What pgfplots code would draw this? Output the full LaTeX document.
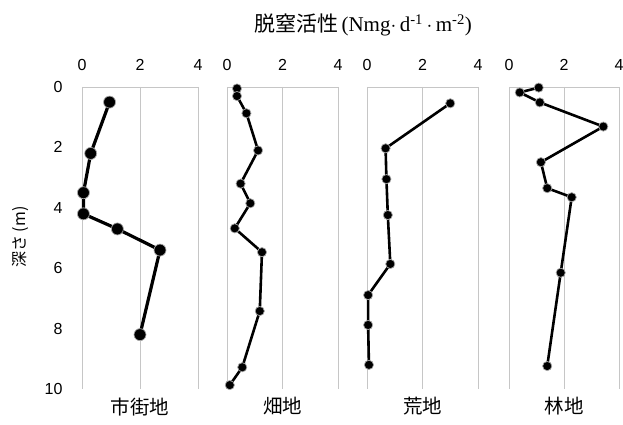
\documentclass[border=0pt]{standalone}
\usepackage{pgfplots}
\pgfplotsset{compat=1.18}
\usepackage{fontspec}
\setmainfont{Liberation Serif}
\newfontfamily\cjk{Noto Sans CJK JP}
\newfontfamily\tickfont{Liberation Sans}
\pgfplotsset{
  panel/.style={
    scale only axis, height=302pt,
    xmin=0, xmax=4, ymin=0, ymax=10, y dir=reverse,
    axis x line*=top, axis y line*=left,
    y axis line style={draw=none},
    x axis line style={draw=gray!45, line width=0.9pt},
    xtick={0,2,4}, ytick={0,2,4,6,8,10},
    tick style={draw=none},
    xmajorgrids, grid style={gray!45, line width=0.9pt},
    /pgf/number format/assume math mode=true,
    tick label style={font=\tickfont\fontsize{16}{18}\selectfont},
    xticklabel style={yshift=13pt},
    yticklabel style={xshift=-16pt},
    clip=false,
  },
  series/.style={black, line width=2.6pt, mark=*, mark size=4.6pt,
    mark options={fill=black, draw=gray!70, line width=0.7pt, solid}},
}
\begin{document}
\begin{tikzpicture}[x=1pt,y=1pt]
\path[use as bounding box] (0,0) rectangle (623,425);
% panel 1
\begin{axis}[panel, width=116pt, at={(82pt,36pt)}, anchor=south west]
\addplot[series, line width=3.2pt, mark size=6pt] coordinates {
(0.95,0.5)(0.3,2.2)(0.05,3.5)(0.05,4.2)(1.22,4.7)(2.69,5.4)(2.0,8.2)};
\node[anchor=north, font=\cjk\fontsize{19.5}{21}\selectfont] at (rel axis cs:0.5,0) [yshift=-5pt] {市街地};
\end{axis}
% panel 2
\begin{axis}[panel, width=111pt, at={(227pt,36pt)}, anchor=south west, yticklabels={}]
\addplot[series] coordinates {
(0.36,0.05)(0.36,0.3)(0.7,0.87)(1.12,2.1)(0.49,3.2)(0.84,3.85)(0.28,4.68)(1.26,5.47)(1.18,7.42)(0.55,9.28)(0.1,9.87)};
\node[anchor=north, font=\cjk\fontsize{19.5}{21}\selectfont] at (rel axis cs:0.5,0) [yshift=-5pt] {畑地};
\end{axis}
% panel 3
\begin{axis}[panel, width=111pt, at={(367pt,36pt)}, anchor=south west, yticklabels={}]
\addplot[series] coordinates {
(3.0,0.54)(0.67,2.03)(0.7,3.05)(0.75,4.24)(0.84,5.86)(0.04,6.89)(0.04,7.88)(0.07,9.2)};
\node[anchor=north, font=\cjk\fontsize{19.5}{21}\selectfont] at (rel axis cs:0.5,0) [yshift=-5pt] {荒地};
\end{axis}
% panel 4
\begin{axis}[panel, width=110pt, at={(509pt,36pt)}, anchor=south west, yticklabels={}]
\addplot[series] coordinates {
(1.08,0.02)(0.39,0.18)(1.12,0.51)(3.43,1.31)(1.16,2.49)(1.39,3.35)(2.28,3.65)(1.88,6.15)(1.39,9.24)};
\node[anchor=north, font=\cjk\fontsize{19.5}{21}\selectfont] at (rel axis cs:0.5,0) [yshift=-5pt] {林地};
\end{axis}
\node[font=\fontsize{21}{23}\selectfont] at (363,400) {{\cjk 脱窒活性}\,(Nmg$\cdot$\,d\textsuperscript{-1}\,$\cdot$\,m\textsuperscript{-2})};
\node[rotate=90, font=\cjk\fontsize{16}{18}\selectfont] at (20,188) {深さ (m)};
\end{tikzpicture}
\end{document}
